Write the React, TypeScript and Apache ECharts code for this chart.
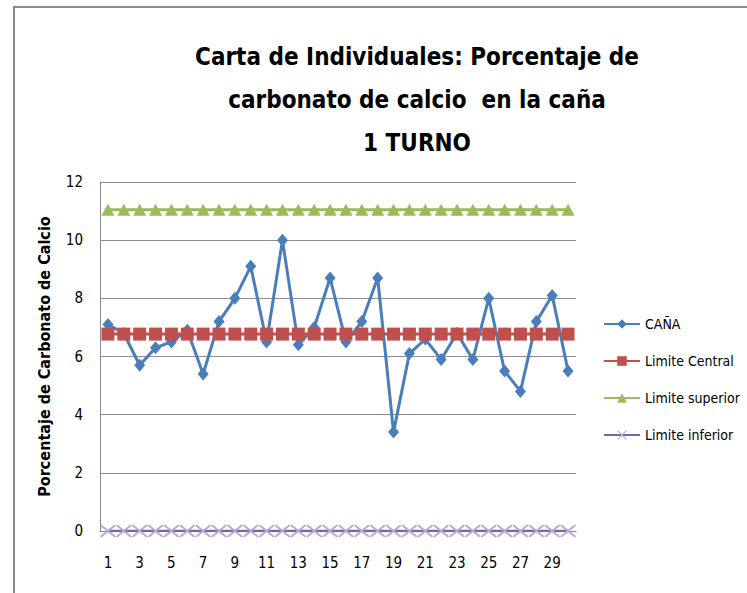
import React, { useEffect, useRef } from "react";
import * as echarts from "echarts";

const categories = Array.from({ length: 30 }, (_, i) => String(i + 1));
const canaValues = [7.1, 6.8, 5.7, 6.3, 6.5, 6.9, 5.4, 7.2, 8.0, 9.1, 6.5, 10.0, 6.4, 7.0, 8.7, 6.5, 7.2, 8.7, 3.4, 6.1, 6.6, 5.9, 6.8, 5.9, 8.0, 5.5, 4.8, 7.2, 8.1, 5.5];
const centralValue = 6.77;
const superiorValue = 11.05;
const inferiorValue = 0;
const centralValues = categories.map(() => centralValue);
const superiorValues = categories.map(() => superiorValue);
const inferiorValues = categories.map(() => inferiorValue);
const yTicks = { min: 0, max: 12, interval: 2 };

const FONT = "'DejaVu Sans Condensed', 'Liberation Sans Narrow', 'Liberation Sans', sans-serif";
const X_SYMBOL = "path://M0,0.9 L0.9,0 L5,4.1 L9.1,0 L10,0.9 L5.9,5 L10,9.1 L9.1,10 L5,5.9 L0.9,10 L0,9.1 L4.1,5 Z";

export default function App() {
  const ref = useRef<HTMLDivElement>(null);
  useEffect(() => {
    if (!ref.current) return;
    const chart = echarts.init(ref.current, undefined, { renderer: "svg" });
    chart.setOption({
      animation: false,
      backgroundColor: "#ffffff",
      title: {
        text: "Carta de Individuales: Porcentaje de\ncarbonato de calcio  en la caña\n1 TURNO",
        left: 412,
        top: 30,
        textAlign: "center",
        textStyle: { fontFamily: FONT, fontSize: 24, fontWeight: "bold", color: "#000", lineHeight: 43 },
      },
      graphic: [
        {
          type: "rect",
          shape: { x: 14, y: 7, width: 900, height: 800 },
          style: { fill: "none", stroke: "#8a8a8a", lineWidth: 2 },
          silent: true,
        },
      ],
      grid: { left: 100, right: 171, top: 182, bottom: 62 },
      legend: {
        orient: "vertical",
        left: 598,
        top: 312,
        itemWidth: 36,
        itemHeight: 12,
        itemGap: 23,
        textStyle: { fontFamily: FONT, fontSize: 14, color: "#000" },
        data: ["CAÑA", "Limite Central", "Limite superior", "Limite inferior"],
      },
      xAxis: {
        type: "category",
        data: categories,
        boundaryGap: true,
        axisLine: { lineStyle: { color: "#888", width: 1 } },
        axisTick: { show: false },
        axisLabel: { interval: 1, margin: 24, fontFamily: FONT, fontSize: 15, color: "#000" },
      },
      yAxis: {
        type: "value",
        min: yTicks.min,
        max: yTicks.max,
        interval: yTicks.interval,
        name: "Porcentaje de Carbonato de Calcio",
        nameLocation: "middle",
        nameGap: 48,
        nameTextStyle: { fontFamily: FONT, fontSize: 16, fontWeight: "bold", color: "#000" },
        axisLine: { show: true, lineStyle: { color: "#888", width: 1 } },
        axisTick: { show: false },
        axisLabel: { margin: 17, fontFamily: FONT, fontSize: 15, color: "#000" },
        splitLine: { lineStyle: { color: "#8c8c8c", width: 1 } },
      },
      series: [
        {
          name: "CAÑA",
          type: "line",
          data: canaValues,
          symbol: "diamond",
          symbolSize: [11, 13],
          showAllSymbol: true,
          itemStyle: { color: "#4A7EBB" },
          lineStyle: { color: "#4A7EBB", width: 3 },
        },
        {
          name: "Limite Central",
          type: "line",
          data: centralValues,
          symbol: "rect",
          symbolSize: 13,
          showAllSymbol: true,
          itemStyle: { color: "#C0504D" },
          lineStyle: { color: "#C0504D", width: 3 },
        },
        {
          name: "Limite superior",
          type: "line",
          data: superiorValues,
          symbol: "triangle",
          symbolSize: [13, 12],
          showAllSymbol: true,
          itemStyle: { color: "#9BBB59" },
          lineStyle: { color: "#9BBB59", width: 3 },
        },
        {
          name: "Limite inferior",
          type: "line",
          data: inferiorValues,
          symbol: X_SYMBOL,
          symbolSize: [16, 13],
          showAllSymbol: true,
          itemStyle: { color: "#B8A6D6" },
          lineStyle: { color: "#7F63A1", width: 2.5 },
        },
      ],
    });
    return () => chart.dispose();
  }, []);
  return (
    <div
      ref={ref}
      style={{ position: "fixed", left: 0, top: 0, width: 747, height: 593 }}
    />
  );
}
